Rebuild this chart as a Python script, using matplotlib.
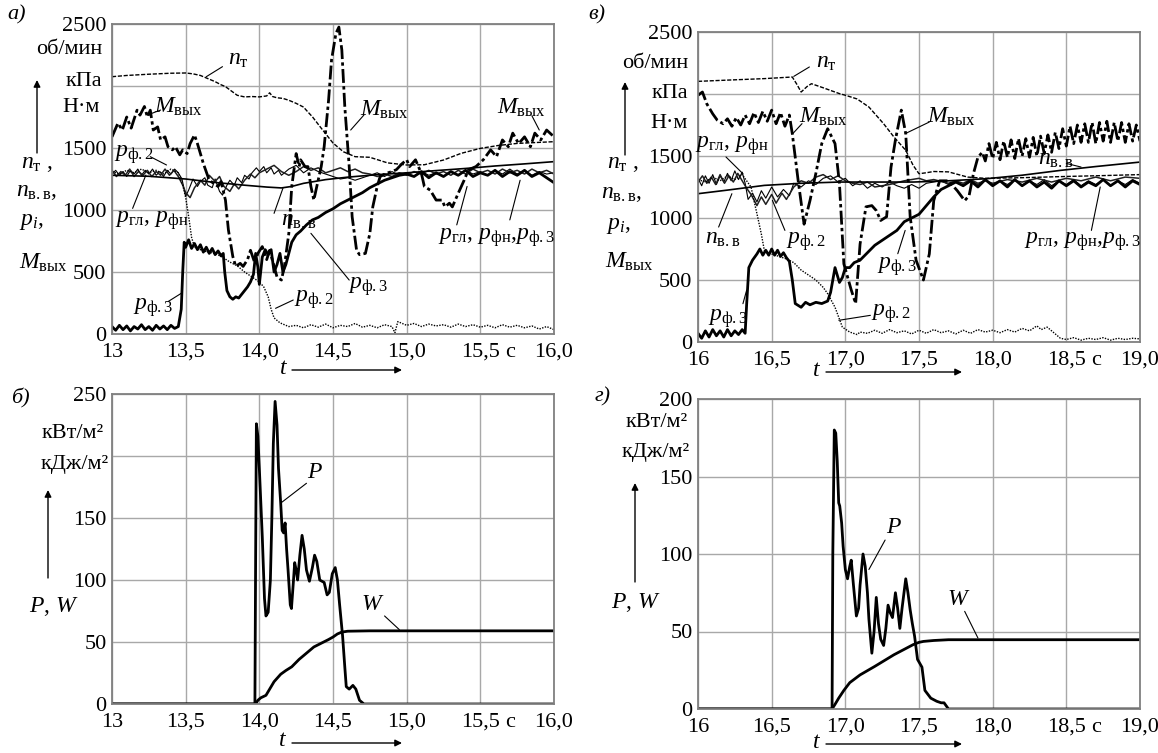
import matplotlib
matplotlib.use("Agg")
import matplotlib.pyplot as plt
import numpy as np

plt.rcParams['font.family'] = ['Liberation Serif', 'DejaVu Serif']
plt.rcParams['mathtext.fontset'] = 'custom'
plt.rcParams['mathtext.rm'] = 'Liberation Serif'
plt.rcParams['mathtext.it'] = 'Liberation Serif:italic'

# ---------------- data (time s, value) ----------------
# panel a) 13..16 s : об/мин, кПа, Н·м
a_nt = [(13.0, 2075), (13.1, 2085), (13.25, 2095), (13.4, 2103), (13.5, 2105), (13.55, 2098),
        (13.6, 2085), (13.65, 2060), (13.7, 2035), (13.74, 2010), (13.77, 1995), (13.81, 1960),
        (13.85, 1925), (13.9, 1912), (13.95, 1915), (14.0, 1912), (14.05, 1920), (14.07, 1945),
        (14.09, 1915), (14.12, 1905), (14.16, 1900), (14.2, 1885), (14.25, 1860), (14.3, 1830),
        (14.33, 1790), (14.36, 1752), (14.42, 1660), (14.46, 1600), (14.5, 1540), (14.57, 1470),
        (14.65, 1430), (14.75, 1425), (14.87, 1380), (15.0, 1363), (15.12, 1365), (15.25, 1403),
        (15.37, 1457), (15.5, 1497), (15.62, 1520), (15.75, 1537), (16.0, 1551)]

a_m = [(13.0, 1590), (13.04, 1700), (13.07, 1645), (13.1, 1750), (13.13, 1660), (13.17, 1805),
       (13.19, 1765), (13.22, 1835), (13.24, 1750), (13.26, 1805), (13.28, 1645), (13.31, 1670),
       (13.33, 1565), (13.36, 1590), (13.38, 1510), (13.41, 1485), (13.43, 1510), (13.46, 1445),
       (13.48, 1485), (13.51, 1455), (13.53, 1535), (13.56, 1605), (13.58, 1535), (13.62, 1375),
       (13.66, 1240), (13.69, 1215), (13.72, 1190), (13.74, 1230), (13.77, 1080), (13.79, 840),
       (13.82, 625), (13.84, 545), (13.87, 570), (13.89, 545), (13.92, 600), (13.94, 675),
       (13.97, 570), (13.99, 650), (14.02, 705), (14.05, 600), (14.07, 675), (14.1, 545),
       (14.12, 460), (14.15, 435), (14.17, 545), (14.2, 810), (14.22, 1190), (14.25, 1455),
       (14.27, 1350), (14.28, 1405), (14.31, 1350), (14.33, 1350), (14.35, 1190), (14.37, 1080),
       (14.39, 1190), (14.42, 1350), (14.44, 1510), (14.47, 1885), (14.49, 2210), (14.52, 2425),
       (14.54, 2475), (14.56, 2290), (14.58, 1835), (14.61, 1350), (14.63, 945), (14.66, 675),
       (14.68, 640), (14.72, 650), (14.75, 810), (14.77, 1025), (14.8, 1190), (14.82, 1270),
       (14.86, 1295), (14.9, 1310), (14.93, 1325), (14.97, 1375), (15.0, 1405), (15.02, 1350),
       (15.06, 1405), (15.1, 1295), (15.12, 1190), (15.16, 1160), (15.2, 1080), (15.24, 1080),
       (15.26, 1025), (15.29, 1055), (15.31, 1025), (15.35, 1135), (15.39, 1240), (15.42, 1325),
       (15.47, 1350), (15.52, 1405), (15.57, 1485), (15.61, 1430), (15.65, 1565), (15.69, 1510),
       (15.72, 1620), (15.76, 1535), (15.8, 1590), (15.84, 1510), (15.87, 1620), (15.91, 1565),
       (15.95, 1645), (16.0, 1590)]

a_p3 = [(13.0, 60), (13.025, 30), (13.05, 70), (13.075, 35), (13.1, 65), (13.125, 25), (13.15, 60),
        (13.175, 40), (13.2, 75), (13.225, 35), (13.25, 60), (13.275, 30), (13.3, 70), (13.325, 40),
        (13.35, 65), (13.375, 35), (13.4, 70), (13.425, 45), (13.45, 60), (13.47, 200), (13.48, 500),
        (13.49, 740), (13.5, 700), (13.52, 760), (13.54, 690), (13.56, 730), (13.58, 680), (13.6, 720),
        (13.62, 660), (13.64, 700), (13.66, 650), (13.68, 690), (13.7, 640), (13.72, 670), (13.74, 630),
        (13.755, 650), (13.765, 500), (13.78, 350), (13.8, 300), (13.82, 280), (13.84, 300),
        (13.86, 290), (13.88, 320), (13.9, 350), (13.92, 380), (13.94, 420), (13.96, 480),
        (13.975, 650), (13.99, 540), (14.0, 400), (14.02, 620), (14.04, 680), (14.06, 640),
        (14.08, 680), (14.1, 500), (14.12, 560), (14.14, 650), (14.16, 500), (14.18, 560),
        (14.2, 650), (14.22, 740), (14.25, 800), (14.28, 830), (14.32, 880), (14.36, 920),
        (14.4, 940), (14.45, 980), (14.5, 1010), (14.55, 1050), (14.6, 1080), (14.65, 1110),
        (14.7, 1140), (14.75, 1180), (14.8, 1210), (14.85, 1240), (14.9, 1260), (14.95, 1280),
        (15.0, 1290), (15.05, 1270), (15.1, 1310), (15.15, 1260), (15.2, 1300), (15.25, 1270),
        (15.3, 1310), (15.35, 1280), (15.4, 1320), (15.45, 1270), (15.5, 1300), (15.55, 1280),
        (15.6, 1320), (15.65, 1270), (15.7, 1310), (15.75, 1280), (15.8, 1320), (15.85, 1270),
        (15.9, 1300), (15.95, 1260), (16.0, 1220)]

a_p2 = [(13.0, 1310), (13.05, 1290), (13.1, 1320), (13.15, 1300), (13.2, 1330), (13.25, 1300),
        (13.3, 1320), (13.35, 1290), (13.4, 1330), (13.45, 1300), (13.48, 1200), (13.5, 1100),
        (13.52, 950), (13.54, 780), (13.56, 700), (13.6, 680), (13.65, 660), (13.7, 650),
        (13.75, 620), (13.8, 580), (13.85, 550), (13.9, 500), (13.95, 460), (14.0, 420),
        (14.03, 380), (14.06, 300), (14.08, 200), (14.1, 130), (14.14, 90), (14.18, 70),
        (14.2, 60), (14.25, 70), (14.3, 50), (14.35, 75), (14.4, 55), (14.45, 80), (14.5, 50),
        (14.55, 70), (14.6, 60), (14.65, 85), (14.7, 55), (14.75, 70), (14.8, 50), (14.85, 75),
        (14.9, 60), (14.92, 10), (14.94, 100), (15.0, 70), (15.05, 85), (15.1, 60), (15.15, 80),
        (15.2, 65), (15.25, 75), (15.3, 55), (15.35, 80), (15.4, 60), (15.45, 75), (15.5, 55),
        (15.55, 70), (15.6, 50), (15.65, 75), (15.7, 55), (15.75, 70), (15.8, 50), (15.85, 65),
        (15.9, 40), (15.95, 60), (16.0, 35)]

a_pgl = [(13.0, 1290), (13.025, 1320), (13.05, 1280), (13.075, 1310), (13.1, 1270), (13.125, 1320),
         (13.15, 1290), (13.175, 1330), (13.2, 1280), (13.225, 1320), (13.25, 1290), (13.275, 1330),
         (13.3, 1280), (13.325, 1310), (13.35, 1270), (13.375, 1320), (13.4, 1290), (13.425, 1330),
         (13.45, 1300), (13.475, 1250), (13.5, 1110), (13.52, 1160), (13.55, 1250), (13.58, 1190),
         (13.6, 1230), (13.63, 1260), (13.65, 1200), (13.68, 1180), (13.7, 1250), (13.73, 1150),
         (13.75, 1120), (13.78, 1200), (13.8, 1240), (13.83, 1200), (13.85, 1260), (13.88, 1220),
         (13.9, 1280), (13.93, 1250), (13.95, 1300), (13.98, 1340), (14.0, 1310), (14.03, 1350),
         (14.05, 1300), (14.08, 1340), (14.1, 1290), (14.13, 1320), (14.15, 1280), (14.18, 1310),
         (14.2, 1330), (14.25, 1360), (14.3, 1300), (14.35, 1340), (14.4, 1310), (14.45, 1290),
         (14.5, 1270), (14.55, 1250), (14.6, 1260), (14.65, 1240), (14.7, 1260), (14.75, 1280),
         (14.8, 1300), (14.85, 1270), (14.9, 1310), (14.95, 1280), (15.0, 1300), (15.05, 1270),
         (15.1, 1310), (15.15, 1280), (15.2, 1300), (15.25, 1270), (15.3, 1310), (15.35, 1280),
         (15.4, 1320), (15.45, 1290), (15.5, 1310), (15.55, 1280), (15.6, 1320), (15.65, 1290),
         (15.7, 1330), (15.75, 1290), (15.8, 1320), (15.85, 1280), (15.9, 1310), (15.95, 1290),
         (16.0, 1300)]

a_pfn = [(13.0, 1320), (13.03, 1270), (13.06, 1310), (13.09, 1280), (13.12, 1330), (13.15, 1270),
         (13.18, 1310), (13.21, 1280), (13.24, 1320), (13.27, 1270), (13.3, 1310), (13.33, 1280),
         (13.36, 1330), (13.39, 1280), (13.42, 1320), (13.45, 1270), (13.48, 1200), (13.5, 1140),
         (13.53, 1100), (13.56, 1180), (13.6, 1240), (13.63, 1200), (13.66, 1280), (13.7, 1230),
         (13.73, 1270), (13.76, 1190), (13.8, 1150), (13.83, 1210), (13.86, 1170), (13.9, 1240),
         (13.94, 1290), (13.97, 1260), (14.0, 1300), (14.05, 1330), (14.1, 1360), (14.15, 1310),
         (14.2, 1280), (14.25, 1310), (14.3, 1350), (14.35, 1320), (14.4, 1340), (14.45, 1300),
         (14.5, 1320), (14.55, 1340), (14.6, 1310), (14.65, 1330), (14.7, 1300), (14.75, 1290),
         (14.8, 1270), (14.85, 1290), (14.9, 1270), (14.95, 1300), (15.0, 1280), (15.05, 1310),
         (15.1, 1290), (15.15, 1320), (15.2, 1290), (15.25, 1310), (15.3, 1280), (15.35, 1320),
         (15.4, 1290), (15.45, 1330), (15.5, 1300), (15.55, 1320), (15.6, 1290), (15.65, 1330),
         (15.7, 1300), (15.75, 1320), (15.8, 1290), (15.85, 1330), (15.9, 1300), (15.95, 1320),
         (16.0, 1290)]

a_nvv = [(13.0, 1280), (13.25, 1272), (13.5, 1250), (13.7, 1222), (13.9, 1200), (14.05, 1185),
         (14.15, 1178), (14.22, 1190), (14.3, 1215), (14.45, 1245), (14.6, 1265), (14.8, 1285),
         (15.0, 1300), (15.2, 1318), (15.4, 1335), (15.6, 1355), (15.8, 1372), (16.0, 1390)]

# panel в) 16..19 s
v_nt = [(16.0, 2102), (16.2, 2112), (16.45, 2124), (16.64, 2137), (16.67, 2080), (16.7, 2016),
        (16.74, 2060), (16.77, 2083), (16.85, 2050), (16.96, 2003), (17.0, 1990), (17.08, 1960),
        (17.16, 1895), (17.26, 1760), (17.33, 1653), (17.41, 1546), (17.46, 1425), (17.5, 1357),
        (17.55, 1365), (17.6, 1375), (17.7, 1372), (17.83, 1330), (17.95, 1320), (18.2, 1325),
        (18.5, 1335), (18.75, 1342), (19.0, 1350)]

v_m = [(16.0, 1990), (16.03, 2016), (16.06, 1920), (16.1, 1840), (16.13, 1790), (16.17, 1760),
       (16.2, 1800), (16.23, 1740), (16.26, 1810), (16.29, 1750), (16.32, 1830), (16.35, 1760),
       (16.38, 1850), (16.41, 1770), (16.44, 1860), (16.47, 1780), (16.5, 1870), (16.53, 1760),
       (16.56, 1850), (16.59, 1740), (16.62, 1830), (16.64, 1680), (16.68, 1300), (16.72, 950),
       (16.76, 1140), (16.8, 1360), (16.84, 1600), (16.88, 1720), (16.93, 1600), (16.96, 1280),
       (16.99, 630), (17.04, 420), (17.07, 310), (17.1, 790), (17.14, 1090), (17.18, 1100),
       (17.21, 1060), (17.24, 980), (17.28, 1010), (17.31, 1410), (17.34, 1630), (17.38, 1870),
       (17.41, 1680), (17.44, 1010), (17.48, 660), (17.53, 500), (17.57, 710), (17.6, 1140),
       (17.64, 1300), (17.7, 1300), (17.76, 1220), (17.81, 1140), (17.84, 1180), (17.87, 1360),
       (17.9, 1490), (17.93, 1530), (17.95, 1460), (17.975, 1600), (18.0, 1480), (18.025, 1610),
       (18.05, 1470), (18.075, 1620), (18.1, 1490), (18.125, 1630), (18.15, 1480), (18.175, 1640),
       (18.2, 1500), (18.225, 1640), (18.25, 1490), (18.275, 1650), (18.3, 1500), (18.325, 1660),
       (18.35, 1520), (18.375, 1670), (18.4, 1530), (18.425, 1690), (18.45, 1560), (18.475, 1720),
       (18.5, 1580), (18.525, 1740), (18.55, 1600), (18.575, 1750), (18.6, 1610), (18.625, 1760),
       (18.65, 1610), (18.675, 1770), (18.7, 1600), (18.725, 1770), (18.75, 1620), (18.775, 1780),
       (18.8, 1610), (18.825, 1770), (18.85, 1620), (18.875, 1770), (18.9, 1610), (18.925, 1760),
       (18.95, 1620), (18.975, 1750), (19.0, 1620)]

v_p3 = [(16.0, 70), (16.025, 30), (16.05, 90), (16.075, 40), (16.1, 100), (16.125, 50), (16.15, 90),
        (16.175, 40), (16.2, 100), (16.225, 50), (16.25, 90), (16.275, 60), (16.3, 100), (16.32, 70),
        (16.33, 300), (16.345, 600), (16.37, 660), (16.4, 710), (16.42, 750), (16.44, 700),
        (16.46, 740), (16.48, 700), (16.5, 750), (16.52, 700), (16.54, 740), (16.56, 690),
        (16.58, 720), (16.6, 680), (16.62, 650), (16.64, 500), (16.66, 310), (16.7, 280),
        (16.73, 320), (16.76, 300), (16.8, 320), (16.84, 310), (16.88, 330), (16.9, 400),
        (16.93, 600), (16.96, 480), (16.98, 520), (17.0, 600), (17.03, 600), (17.06, 640),
        (17.1, 660), (17.15, 720), (17.2, 780), (17.25, 820), (17.3, 860), (17.35, 900),
        (17.4, 970), (17.45, 1000), (17.5, 1030), (17.55, 1100), (17.6, 1170), (17.65, 1230),
        (17.7, 1260), (17.75, 1290), (17.8, 1260), (17.85, 1300), (17.9, 1250), (17.95, 1310),
        (18.0, 1260), (18.05, 1300), (18.1, 1250), (18.15, 1310), (18.2, 1260), (18.25, 1300),
        (18.3, 1250), (18.35, 1290), (18.4, 1240), (18.45, 1300), (18.5, 1260), (18.55, 1300),
        (18.6, 1250), (18.65, 1290), (18.7, 1260), (18.75, 1310), (18.8, 1260), (18.85, 1300),
        (18.9, 1250), (18.95, 1300), (19.0, 1270)]

v_p2 = [(16.0, 1310), (16.05, 1290), (16.1, 1330), (16.15, 1300), (16.2, 1340), (16.25, 1310),
        (16.3, 1350), (16.33, 1300), (16.36, 1250), (16.38, 1140), (16.4, 1035), (16.43, 870),
        (16.45, 740), (16.5, 710), (16.55, 690), (16.6, 670), (16.65, 640), (16.7, 580),
        (16.75, 540), (16.8, 500), (16.85, 440), (16.88, 390), (16.93, 280), (16.98, 120),
        (17.03, 80), (17.08, 60), (17.1, 80), (17.15, 70), (17.2, 95), (17.25, 70), (17.3, 100),
        (17.35, 75), (17.4, 90), (17.45, 65), (17.5, 95), (17.55, 70), (17.6, 100), (17.65, 75),
        (17.7, 90), (17.75, 65), (17.8, 95), (17.85, 70), (17.9, 100), (17.95, 80), (18.0, 95),
        (18.05, 75), (18.1, 100), (18.15, 80), (18.2, 110), (18.25, 90), (18.3, 130), (18.33, 100),
        (18.37, 120), (18.4, 90), (18.43, 60), (18.46, 30), (18.5, 20), (18.55, 35), (18.6, 15),
        (18.65, 30), (18.7, 20), (18.75, 35), (18.8, 15), (18.85, 30), (18.9, 20), (18.95, 30),
        (19.0, 25)]

v_pgl = [(16.0, 1320), (16.025, 1260), (16.05, 1340), (16.075, 1280), (16.1, 1350), (16.125, 1270),
         (16.15, 1340), (16.175, 1290), (16.2, 1360), (16.225, 1300), (16.25, 1380), (16.275, 1310),
         (16.3, 1370), (16.32, 1280), (16.34, 1150), (16.37, 1200), (16.4, 1130), (16.43, 1220),
         (16.46, 1160), (16.5, 1250), (16.54, 1170), (16.58, 1230), (16.62, 1180), (16.65, 1280),
         (16.7, 1250), (16.75, 1300), (16.8, 1270), (16.85, 1320), (16.9, 1340), (16.95, 1290),
         (17.0, 1320), (17.05, 1260), (17.1, 1300), (17.15, 1240), (17.2, 1280), (17.25, 1250),
         (17.3, 1290), (17.35, 1260), (17.4, 1240), (17.45, 1270), (17.5, 1240), (17.55, 1280),
         (17.6, 1290), (17.65, 1300), (17.7, 1270), (17.75, 1300), (17.8, 1260), (17.85, 1300),
         (17.9, 1270), (17.95, 1310), (18.0, 1260), (18.05, 1300), (18.1, 1270), (18.15, 1310),
         (18.2, 1260), (18.25, 1300), (18.3, 1270), (18.35, 1310), (18.4, 1260), (18.45, 1300),
         (18.5, 1270), (18.55, 1310), (18.6, 1260), (18.65, 1300), (18.7, 1270), (18.75, 1310),
         (18.8, 1260), (18.85, 1300), (18.9, 1270), (18.95, 1310), (19.0, 1280)]

v_pfn = [(16.0, 1290), (16.03, 1340), (16.06, 1280), (16.09, 1330), (16.12, 1270), (16.15, 1350),
         (16.18, 1280), (16.21, 1340), (16.24, 1290), (16.27, 1360), (16.3, 1300), (16.33, 1240),
         (16.36, 1190), (16.4, 1100), (16.43, 1170), (16.46, 1110), (16.5, 1190), (16.53, 1120),
         (16.57, 1200), (16.6, 1150), (16.65, 1250), (16.7, 1300), (16.75, 1280), (16.8, 1330),
         (16.85, 1350), (16.9, 1310), (16.95, 1340), (17.0, 1300), (17.05, 1280), (17.1, 1270),
         (17.15, 1290), (17.2, 1250), (17.3, 1270), (17.4, 1300), (17.5, 1320), (17.55, 1300),
         (17.6, 1310), (17.7, 1280), (17.75, 1300), (17.8, 1280), (17.85, 1310), (17.9, 1280),
         (17.95, 1300), (18.0, 1280), (18.1, 1310), (18.2, 1290), (18.3, 1320), (18.4, 1290),
         (18.5, 1320), (18.6, 1300), (18.7, 1330), (18.8, 1300), (18.9, 1330), (19.0, 1320)]

v_nvv = [(16.0, 1196), (16.2, 1225), (16.45, 1263), (16.7, 1280), (16.96, 1290), (17.2, 1290),
         (17.46, 1290), (17.7, 1300), (17.96, 1317), (18.2, 1345), (18.46, 1384), (18.7, 1415),
         (19.0, 1451)]

# panel б) P, W   кВт/м2, кДж/м2
b_p = [(13.0, 0), (13.97, 0), (13.975, 120), (13.98, 226), (13.99, 216), (14.0, 190), (14.02, 135),
       (14.035, 85), (14.045, 71), (14.06, 74), (14.075, 100), (14.085, 150), (14.095, 210),
       (14.107, 244), (14.12, 225), (14.13, 190), (14.145, 162), (14.155, 140), (14.165, 138),
       (14.175, 146), (14.185, 125), (14.195, 108), (14.21, 80), (14.218, 77), (14.232, 100),
       (14.24, 114), (14.25, 108), (14.26, 100), (14.275, 120), (14.29, 136), (14.305, 125),
       (14.32, 108), (14.34, 99), (14.36, 110), (14.375, 120), (14.39, 115), (14.41, 100),
       (14.44, 98), (14.46, 88), (14.475, 90), (14.495, 105), (14.515, 110), (14.53, 100),
       (14.545, 80), (14.565, 55), (14.58, 30), (14.59, 14), (14.61, 12), (14.635, 15),
       (14.655, 12), (14.68, 3), (14.71, 0), (16.0, 0)]
b_w = [(13.0, 0), (13.975, 0), (13.99, 3), (14.01, 5), (14.045, 7), (14.07, 12), (14.1, 18),
       (14.145, 24), (14.18, 27), (14.22, 30), (14.27, 36), (14.32, 41), (14.37, 46), (14.42, 49),
       (14.47, 52), (14.5, 54), (14.53, 56.5), (14.56, 58), (14.6, 58.7), (14.75, 59), (16.0, 59)]

# panel г)
g_p = [(16.0, 0), (16.91, 0), (16.915, 100), (16.925, 180), (16.935, 178), (16.945, 160),
       (16.955, 133), (16.962, 131), (16.975, 120), (16.985, 105), (17.0, 90), (17.015, 84),
       (17.03, 92), (17.04, 96), (17.055, 80), (17.075, 60), (17.09, 65), (17.1, 80), (17.12, 100),
       (17.135, 92), (17.15, 75), (17.16, 58), (17.18, 36), (17.195, 50), (17.21, 72), (17.225, 55),
       (17.24, 45), (17.26, 41), (17.275, 52), (17.29, 67), (17.305, 62), (17.32, 59), (17.34, 75),
       (17.355, 65), (17.37, 52), (17.385, 65), (17.41, 84), (17.425, 75), (17.44, 64),
       (17.455, 55), (17.47, 47), (17.49, 32), (17.52, 27), (17.54, 12), (17.58, 7), (17.62, 5),
       (17.65, 4), (17.67, 4), (17.7, 0), (19.0, 0)]
g_w = [(16.0, 0), (16.91, 0), (16.93, 3), (16.955, 7), (16.99, 12), (17.03, 17), (17.1, 22),
       (17.2, 27.5), (17.33, 35), (17.4, 38.5), (17.46, 41.5), (17.5, 43), (17.53, 43.6),
       (17.6, 44.2), (17.7, 44.7), (19.0, 44.7)]

xt_a = [13, 13.5, 14, 14.5, 15, 15.5, 16]
xl_a = ['13', '13,5', '14,0', '14,5', '15,0', '15,5', '16,0']
xt_v = [16, 16.5, 17, 17.5, 18, 18.5, 19]
xl_v = ['16', '16,5', '17,0', '17,5', '18,0', '18,5', '19,0']
yt_top = [0, 500, 1000, 1500, 2000, 2500]
yl_top = ['0', '500', '1000', '1500', '', '2500']
yt_b = [0, 50, 100, 150, 200, 250]
yl_b = ['0', '50', '100', '150', '', '250']
yt_g = [0, 50, 100, 150, 200]
yl_g = ['0', '50', '100', '150', '200']

# ---------------- figure ----------------
W, H = 1158, 753
fig = plt.figure(figsize=(W / 100, H / 100), dpi=100)


def box(l, t, r, b):
    return [l / W, 1 - b / H, (r - l) / W, (b - t) / H]


def fx(x, y):
    return (x / W, 1 - y / H)


ax_a = fig.add_axes(box(112, 24, 554, 334))
ax_v = fig.add_axes(box(698, 32, 1140, 342))
ax_b = fig.add_axes(box(112, 394, 554, 704))
ax_g = fig.add_axes(box(698, 399, 1140, 709))

FS = 16


def setup(ax, xt, xl, yt, yl, ymax):
    ax.set_xlim(xt[0], xt[-1])
    ax.set_ylim(0, ymax)
    ax.set_xticks(xt)
    ax.set_xticklabels(xl, fontsize=FS)
    ax.set_yticks(yt)
    ax.set_yticklabels(yl, fontsize=FS)
    ax.tick_params(axis='y', length=0, pad=4)
    ax.tick_params(axis='x', length=0, pad=6.5)
    ax.grid(True, color='#a8a8a8', lw=1.0)
    for s in ax.spines.values():
        s.set_color('#808080')
        s.set_linewidth(1.3)
    # seconds unit right after the 6th tick label, same row
    ax.text(xt[5] + 0.2, -9 / 310, 'с', transform=ax.get_xaxis_transform(),
            ha='center', va='top', fontsize=FS)


setup(ax_a, xt_a, xl_a, yt_top, yl_top, 2500)
setup(ax_v, xt_v, xl_v, yt_top, yl_top, 2500)
setup(ax_b, xt_a, xl_a, yt_b, yl_b, 250)
setup(ax_g, xt_v, xl_v, yt_g, yl_g, 200)

st_nt = dict(color='k', lw=1.0, ls=(0, (3, 1.2)))
st_m = dict(color='k', lw=2.0, ls=(0, (5, 1.2, 1.2, 1.2)))
st_p3 = dict(color='k', lw=2.0)
st_p2 = dict(color='k', lw=1.0, ls=(0, (1, 1)))
st_pgl = dict(color='k', lw=0.8)
st_pfn = dict(color='#202020', lw=1.1)
st_nvv = dict(color='k', lw=1.2)
st_pw = dict(color='k', lw=2.0)


def draw(ax, data, st):
    t, v = zip(*data)
    ax.plot(t, v, **st)


for ax, curves in [(ax_a, [a_pgl, a_pfn, a_nvv, a_p2, a_nt, a_p3, a_m]),
                   (ax_v, [v_pgl, v_pfn, v_nvv, v_p2, v_nt, v_p3, v_m])]:
    pgl, pfn, nvv, p2, nt, p3, m = curves
    draw(ax, pgl, st_pgl)
    draw(ax, pfn, st_pfn)
    draw(ax, nvv, st_nvv)
    draw(ax, p2, st_p2)
    draw(ax, nt, st_nt)
    draw(ax, p3, st_p3)
    draw(ax, m, st_m)

draw(ax_b, b_p, st_pw)
draw(ax_b, b_w, st_pw)
draw(ax_g, g_p, st_pw)
draw(ax_g, g_w, st_pw)

LFS = 17


def lab(ax, s, pos, start, tip, fs=LFS):
    ax.text(pos[0], pos[1], s, ha='center', va='center', fontsize=fs)
    if start is not None:
        ax.annotate('', xy=tip, xytext=start,
                    arrowprops=dict(arrowstyle='-', lw=0.8, color='k',
                                    shrinkA=0, shrinkB=0))


NT = r'$n_{\mathrm{т}}$'
M = r'$M_{\mathrm{вых}}$'
P2 = r'$p_{\mathrm{ф.2}}$'
P3 = r'$p_{\mathrm{ф.3}}$'
NVV = r'$n_{\mathrm{в.в}}$'
GLFN = r'$p_{\mathrm{гл}}$, $p_{\mathrm{фн}}$'
GLFN3 = r'$p_{\mathrm{гл}}$, $p_{\mathrm{фн}}$,$p_{\mathrm{ф.3}}$'

# labels, panel a
lab(ax_a, NT, (13.86, 2215), (13.75, 2156), (13.64, 2075))
lab(ax_a, M, (13.45, 1835), (13.33, 1806), (13.24, 1766))
lab(ax_a, M, (14.85, 1810), (14.71, 1766), (14.62, 1645))
lab(ax_a, M, (15.78, 1825), (15.85, 1760), (15.9, 1645))
lab(ax_a, P2, (13.15, 1450), (13.26, 1430), (13.37, 1363))
lab(ax_a, GLFN, (13.27, 915), (13.14, 1013), (13.23, 1282))
lab(ax_a, NVV, (14.27, 915), (14.1, 973), (14.16, 1175))
lab(ax_a, P3, (14.74, 380), (14.61, 435), (14.35, 812))
lab(ax_a, P2, (14.37, 275), (14.23, 274), (14.11, 207))
lab(ax_a, P3, (13.28, 215), (13.38, 261), (13.47, 328))
lab(ax_a, GLFN3, (15.61, 780), (15.34, 880), (15.41, 1190))
ax_a.annotate('', xy=(15.77, 1240), xytext=(15.7, 920),
              arrowprops=dict(arrowstyle='-', lw=0.8, color='k', shrinkA=0, shrinkB=0))

# labels, panel в
lab(ax_v, NT, (16.87, 2258), (16.756, 2218), (16.65, 2142))
lab(ax_v, M, (16.85, 1815), (16.706, 1761), (16.643, 1680))
lab(ax_v, M, (17.72, 1815), (17.57, 1774), (17.406, 1680))
lab(ax_v, GLFN, (16.23, 1586), (16.19, 1492), (16.305, 1357))
lab(ax_v, NVV, (16.17, 833), (16.14, 927), (16.23, 1196))
lab(ax_v, P2, (16.73, 806), (16.59, 900), (16.505, 1142))
lab(ax_v, P3, (17.35, 605), (17.356, 712), (17.406, 900))
lab(ax_v, P3, (16.205, 188), (16.305, 309), (16.33, 417))
lab(ax_v, P2, (17.31, 228), (17.17, 215), (16.956, 175))
lab(ax_v, GLFN3, (18.61, 806), (18.67, 900), (18.73, 1250))
lab(ax_v, NVV, (18.43, 1470), (18.5, 1440), (18.6, 1411))

# labels, panels б and г
lab(ax_b, r'$P$', (14.375, 187), (14.32, 178), (14.145, 162))
lab(ax_b, r'$W$', (14.77, 80), (14.85, 71), (14.95, 60))
lab(ax_g, r'$P$', (17.33, 117), (17.27, 109), (17.16, 90))
lab(ax_g, r'$W$', (17.77, 70.5), (17.81, 63), (17.9, 45.8))

# ---------------- outer texts ----------------
def ftext(x, y, s, ha='center', fs=FS, **kw):
    fig.text(*fx(x, y), s, ha=ha, va='center', fontsize=fs, **kw)


def farrow(p0, p1):
    fig.add_artist(matplotlib.patches.FancyArrowPatch(
        fx(*p0), fx(*p1), transform=fig.transFigure, arrowstyle='-|>',
        mutation_scale=10, lw=1.0, color='k', shrinkA=0, shrinkB=0))


# panel a
ftext(17, 15, 'а)', style='italic')
ftext(102, 50, 'об/мин', ha='right')
ftext(102, 81, 'кПа', ha='right')
ftext(100, 108, 'Н·м', ha='right')
farrow((37, 153), (37, 80))
ftext(37, 163, r'$n_{\mathrm{т}}$ ,', fs=LFS)
ftext(36, 192, r'$n_{\mathrm{в.в}}$,', fs=LFS)
ftext(31, 222, r'$p_{i}$,', fs=LFS)
ftext(43, 263, r'$M_{\mathrm{вых}}$', fs=LFS)
ftext(284, 368, r'$t$', fs=LFS)
farrow((292, 370), (402, 370))

# panel в
ftext(597, 15, 'в)', style='italic')
ftext(688, 63, 'об/мин', ha='right')
ftext(688, 93, 'кПа', ha='right')
ftext(688, 123, 'Н·м', ha='right')
farrow((625, 155), (625, 82))
ftext(623, 163, r'$n_{\mathrm{т}}$ ,', fs=LFS)
ftext(621, 193, r'$n_{\mathrm{в.в}}$,', fs=LFS)
ftext(618, 225, r'$p_{i}$,', fs=LFS)
ftext(629, 262, r'$M_{\mathrm{вых}}$', fs=LFS)
ftext(817, 370, r'$t$', fs=LFS)
farrow((826, 372), (962, 372))

# panel б
ftext(20, 398, 'б)', style='italic')
ftext(104, 433, 'кВт/м²', ha='right')
ftext(109, 464, 'кДж/м²', ha='right')
farrow((48, 578), (48, 490))
ftext(54, 607, r'$P$, $W$', fs=LFS)
ftext(283, 741, r'$t$', fs=LFS)
farrow((292, 743), (402, 743))

# panel г
ftext(603, 397, 'г)', style='italic')
ftext(688, 423, 'кВт/м²', ha='right')
ftext(690, 453, 'кДж/м²', ha='right')
farrow((635, 582), (635, 483))
ftext(636, 603, r'$P$, $W$', fs=LFS)
ftext(817, 742, r'$t$', fs=LFS)
farrow((826, 744), (962, 744))

fig.savefig('out.png', dpi=100)
